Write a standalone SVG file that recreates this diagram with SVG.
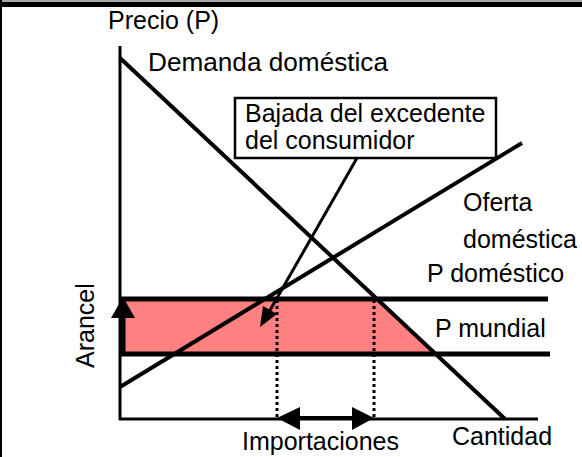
<svg xmlns="http://www.w3.org/2000/svg" width="582" height="457" viewBox="0 0 582 457">
<style>
text{font-family:"Liberation Sans",Arial,sans-serif;font-size:25px;fill:#000}
.ln{stroke:#000;fill:none}
.dot{stroke:#000;stroke-width:3;stroke-dasharray:3 3;fill:none}
</style>
<rect x="0" y="0" width="582" height="457" fill="#fff"/>
<rect x="0" y="0" width="582" height="2" fill="#aaa"/>
<rect x="0" y="2" width="582" height="5" fill="#000"/>
<rect x="0" y="0" width="2" height="457" fill="#000"/>
<g id="area">
<polygon points="119,299 377,299 436,354 119,354" fill="#ff8080"/>
</g>
<g id="connectors">
<line class="ln" x1="120" y1="46" x2="120" y2="420" stroke-width="3"/>
<line class="ln" x1="119" y1="419" x2="538" y2="419" stroke-width="3"/>
<line class="ln" x1="120" y1="58" x2="505" y2="419" stroke-width="4"/>
<line class="ln" x1="120" y1="387" x2="522" y2="143" stroke-width="4"/>
<line class="ln" x1="119" y1="299" x2="548" y2="299" stroke-width="5"/>
<line class="ln" x1="119" y1="354" x2="550" y2="354" stroke-width="5"/>
<line class="dot" x1="277" y1="300" x2="277" y2="418"/>
<line class="dot" x1="374" y1="300" x2="374" y2="418"/>
<line class="ln" x1="123" y1="354" x2="123" y2="316" stroke-width="5"/>
<polygon points="123,297 111,318 135,318" fill="#000"/>
<line class="ln" x1="298" y1="418" x2="354" y2="418" stroke-width="4"/>
<polygon points="277,418 300,407 300,430" fill="#000"/>
<polygon points="374,418 352,407 352,430" fill="#000"/>
<line class="ln" x1="357" y1="158" x2="269" y2="312" stroke-width="3"/>
<polygon points="260,327 277,314 263,306" fill="#000"/>
</g>
<g id="callout">
<rect x="235" y="98" width="261" height="60" fill="#fff" stroke="#000" stroke-width="2.5"/>
<text x="245" y="122">Bajada del excedente</text>
<text x="245" y="149">del consumidor</text>
</g>
<g id="labels">
<text x="108" y="29" font-size="23">Precio (P)</text>
<text x="148" y="71" textLength="240" lengthAdjust="spacingAndGlyphs">Demanda doméstica</text>
<text x="463" y="211">Oferta</text>
<text x="463" y="248">doméstica</text>
<text x="427" y="282">P doméstico</text>
<text x="435" y="337">P mundial</text>
<text x="242" y="450">Importaciones</text>
<text x="452" y="445">Cantidad</text>
<text transform="translate(94,368) rotate(-90)">Arancel</text>
</g>
</svg>
